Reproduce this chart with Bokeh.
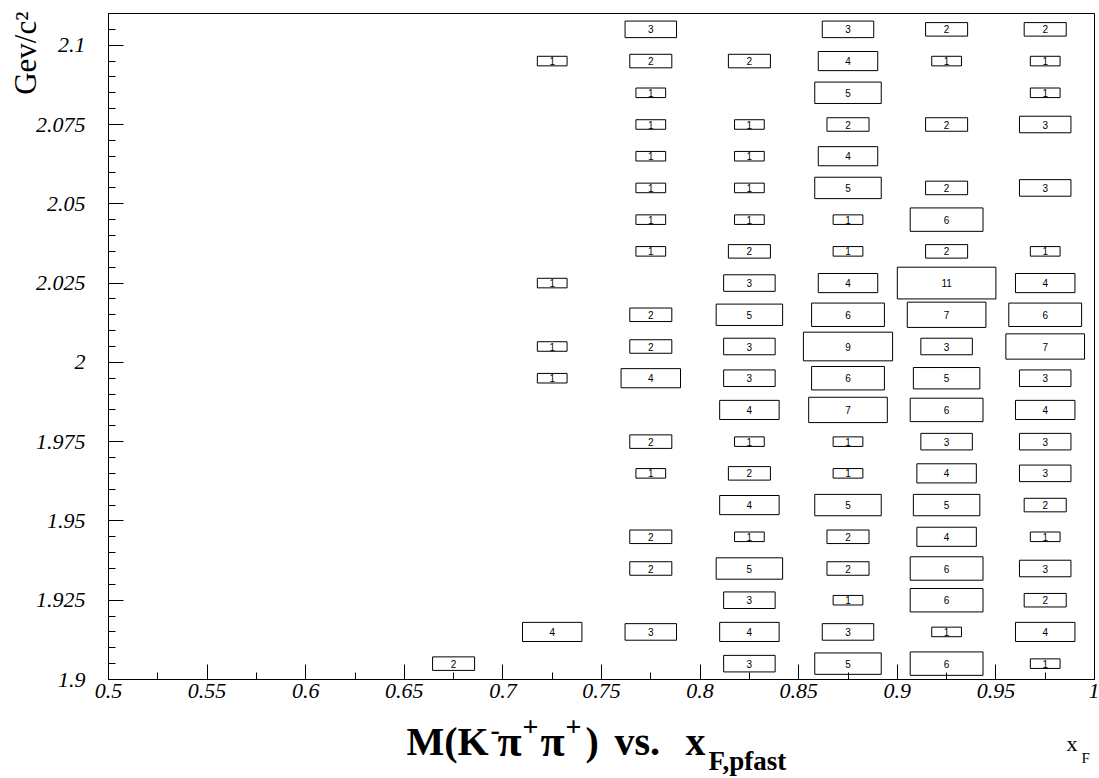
import math

from bokeh.core.properties import value
from bokeh.embed import file_html
from bokeh.layouts import column
from bokeh.models import ColumnDataSource, FixedTicker, Range1d, Title
from bokeh.plotting import figure
from bokeh.resources import INLINE

# ---------------------------------------------------------------- data
# x_F bin centres (bin width 0.05) that hold entries
x_centers = [0.675, 0.725, 0.775, 0.825, 0.875, 0.925, 0.975]
x_bin_width = 0.05
y_bin_width = 0.01

# entries per M(K- pi+ pi+) bin, columns follow x_centers
row_1905 = [2, 0, 0, 3, 5, 6, 1]
row_1915 = [0, 4, 3, 4, 3, 1, 4]
row_1925 = [0, 0, 0, 3, 1, 6, 2]
row_1935 = [0, 0, 2, 5, 2, 6, 3]
row_1945 = [0, 0, 2, 1, 2, 4, 1]
row_1955 = [0, 0, 0, 4, 5, 5, 2]
row_1965 = [0, 0, 1, 2, 1, 4, 3]
row_1975 = [0, 0, 2, 1, 1, 3, 3]
row_1985 = [0, 0, 0, 4, 7, 6, 4]
row_1995 = [0, 1, 4, 3, 6, 5, 3]
row_2005 = [0, 1, 2, 3, 9, 3, 7]
row_2015 = [0, 0, 2, 5, 6, 7, 6]
row_2025 = [0, 1, 0, 3, 4, 11, 4]
row_2035 = [0, 0, 1, 2, 1, 2, 1]
row_2045 = [0, 0, 1, 1, 1, 6, 0]
row_2055 = [0, 0, 1, 1, 5, 2, 3]
row_2065 = [0, 0, 1, 1, 4, 0, 0]
row_2075 = [0, 0, 1, 1, 2, 2, 3]
row_2085 = [0, 0, 1, 0, 5, 0, 1]
row_2095 = [0, 1, 2, 2, 4, 1, 1]
row_2105 = [0, 0, 3, 0, 3, 2, 2]

y_centers = [1.905, 1.915, 1.925, 1.935, 1.945, 1.955, 1.965, 1.975, 1.985,
             1.995, 2.005, 2.015, 2.025, 2.035, 2.045, 2.055, 2.065, 2.075,
             2.085, 2.095, 2.105]
rows = [row_1905, row_1915, row_1925, row_1935, row_1945, row_1955, row_1965,
        row_1975, row_1985, row_1995, row_2005, row_2015, row_2025, row_2035,
        row_2045, row_2055, row_2065, row_2075, row_2085, row_2095, row_2105]

x_tick_values = [0.5, 0.55, 0.6, 0.65, 0.7, 0.75, 0.8, 0.85, 0.9, 0.95, 1.0]
x_tick_labels = ["0.5", "0.55", "0.6", "0.65", "0.7", "0.75", "0.8", "0.85",
                 "0.9", "0.95", "1"]
y_tick_values = [1.9, 1.925, 1.95, 1.975, 2.0, 2.025, 2.05, 2.075, 2.1]
y_tick_labels = ["1.9", "1.925", "1.95", "1.975", "2", "2.025", "2.05",
                 "2.075", "2.1"]

y_title = "Gev/c\u00b2"

# ---------------------------------------------------------------- boxes
# box area proportional to the cell content
max_count = max(max(r) for r in rows)
bx, by, bw, bh, btxt = [], [], [], [], []
for yc, row in zip(y_centers, rows):
    for xc, c in zip(x_centers, row):
        if c <= 0:
            continue
        f = math.sqrt(c / max_count)
        bx.append(xc)
        by.append(yc)
        bw.append(x_bin_width * f)
        bh.append(y_bin_width * f)
        btxt.append(str(c))

src = ColumnDataSource(dict(x=bx, y=by, w=bw, h=bh, t=btxt))

# ---------------------------------------------------------------- main plot
W = 1099
TOTAL_H = 778
MAIN_H = 710
L, R, T, B = 108, 5, 13, 31

p = figure(width=W, height=MAIN_H, x_range=(0.5, 1.0), y_range=(1.9, 2.11),
           output_backend="svg", toolbar_location=None,
           min_border_left=L, min_border_right=R,
           min_border_top=T, min_border_bottom=B)
p.background_fill_color = "white"
p.border_fill_color = "white"
p.outline_line_color = "black"
p.outline_line_width = 1
p.xgrid.visible = False
p.ygrid.visible = False

p.rect(x="x", y="y", width="w", height="h", source=src,
       fill_color=None, line_color="black", line_width=1)
p.text(x="x", y="y", text="t", source=src,
       text_font=value("Liberation Sans"), text_font_size="10px",
       text_align="center", text_baseline="middle", text_color="black")

# axes
xminor = [round(0.5 + 0.025 * i, 3) for i in range(21)]
yminor = [round(1.9 + 0.005 * i, 3) for i in range(43)]
p.xaxis.ticker = FixedTicker(ticks=x_tick_values, minor_ticks=xminor)
p.yaxis.ticker = FixedTicker(ticks=y_tick_values, minor_ticks=yminor)
p.xaxis.major_label_overrides = dict(zip(x_tick_values, x_tick_labels))
p.yaxis.major_label_overrides = dict(zip(y_tick_values, y_tick_labels))

for ax in (p.xaxis, p.yaxis):
    ax.axis_line_color = "black"
    ax.axis_line_width = 1
    ax.major_tick_line_color = "black"
    ax.minor_tick_line_color = "black"
    ax.major_tick_in = 15
    ax.major_tick_out = 0
    ax.minor_tick_in = 7
    ax.minor_tick_out = 0
    ax.major_label_text_font = "Liberation Serif"
    ax.major_label_text_font_style = "italic"
    ax.major_label_text_font_size = "22px"
    ax.major_label_text_color = "black"
p.xaxis.major_label_standoff = 4
p.yaxis.major_label_standoff = 23

# vertical axis title, top end of the left side
p.add_layout(Title(text=y_title, align="right", text_font="Liberation Serif",
                   text_font_size="31px", text_font_style="normal",
                   text_color="black", standoff=-21, offset=-2), "left")

# ---------------------------------------------------------------- caption strip
# frame shares the main plot's left/right borders; data units are canvas pixels
cap = figure(width=W, height=TOTAL_H - MAIN_H,
             x_range=Range1d(L, W - R), y_range=Range1d(TOTAL_H, MAIN_H),
             output_backend="svg", toolbar_location=None,
             min_border_left=L, min_border_right=R,
             min_border_top=0, min_border_bottom=0,
             x_axis_type=None, y_axis_type=None)
cap.outline_line_color = None
cap.background_fill_color = "white"
cap.border_fill_color = "white"
cap.xgrid.visible = False
cap.ygrid.visible = False

# pieces of  M(K^- pi^+ pi^+) vs. x_{F,pfast}  and of  x_F
cap_text = ["M(K", "-", "\u03c0", "+", "\u03c0", "+", ")", "vs.", "x",
            "F,pfast", "x", "F"]
cap_x = [406, 490, 497, 522, 540, 565, 585, 614, 685, 708, 1066, 1081]
cap_y = [741, 729, 741, 726, 741, 726, 741, 741, 741, 760, 743, 757]
cap_size = ["40px", "28px", "44px", "28px", "44px", "28px", "40px", "40px",
            "40px", "27px", "22px", "15px"]
cap_style = ["bold"] * 10 + ["normal", "normal"]

cap.text(x=cap_x, y=cap_y, text=cap_text, text_font_size=cap_size,
         text_font_style=cap_style, text_font=value("Liberation Serif"),
         text_align="left", text_baseline="alphabetic", text_color="black")

layout = column(p, cap, spacing=0)
open("out.html", "w").write(file_html(layout, INLINE))
